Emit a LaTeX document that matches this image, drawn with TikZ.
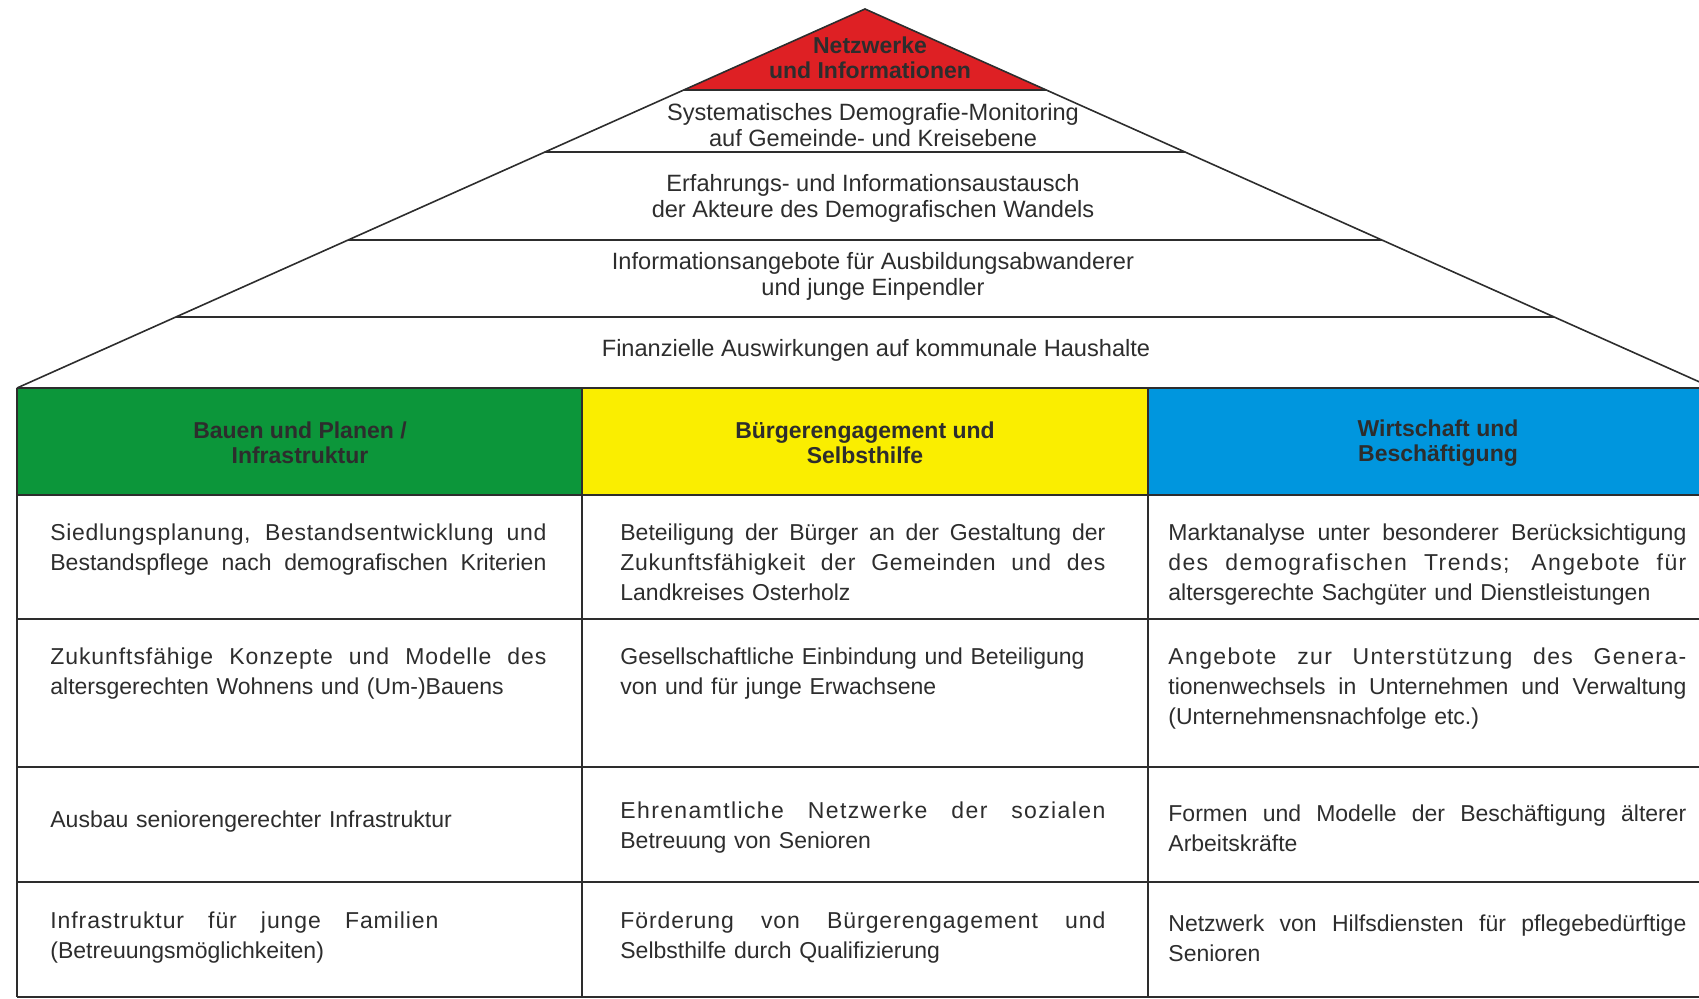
\documentclass[tikz,border=0pt]{standalone}
\usepackage{fontspec}
\setmainfont{Liberation Sans}
\usetikzlibrary{calc}
\definecolor{roofred}{RGB}{222,32,36}
\definecolor{colgreen}{RGB}{12,150,58}
\definecolor{colyellow}{RGB}{250,238,0}
\definecolor{colblue}{RGB}{0,150,222}
\definecolor{ink}{RGB}{45,45,45}
\newcommand{\jl}[2][\hsize]{{\spaceskip=0pt\xspaceskip=0pt\makebox[#1][s]{#2}}}
\newcommand{\wide}[1][6]{\addfontfeature{LetterSpace=#1}}

\begin{document}
\begin{tikzpicture}[x=0.5pt,y=-0.5pt,
  tabline/.style={draw=ink,line width=1.1pt},
  slope/.style={draw=ink,line width=0.8pt},
  rt/.style={align=center,inner sep=0pt,text=ink,font=\fontsize{11.8}{13}\selectfont},
  hd/.style={align=center,inner sep=0pt,text=ink,font=\fontsize{11.5}{12.5}\selectfont\bfseries},
  cell/.style={inner sep=0pt,align=left,text=ink,font=\fontsize{11.5}{15}\selectfont},
  colA/.style={cell,text width=248pt},
  colB/.style={cell,text width=242.5pt},
  colC/.style={cell,text width=259pt}]
  \useasboundingbox (0,0) rectangle (1699,999);
  % roof
  \coordinate (apex) at (865,9);
  \coordinate (eaveL) at (17,388);
  \coordinate (eaveR) at (1713,388);
  \fill[roofred] (apex) -- ($(apex)!81/379!(eaveL)$) -- ($(apex)!81/379!(eaveR)$) -- cycle;
  \draw[slope] (eaveL) -- (apex) -- (eaveR);
  \foreach \y in {90,152,240,317}
    \draw[tabline] ($(apex)!{(\y-9)/379}!(eaveL)$) -- ($(apex)!{(\y-9)/379}!(eaveR)$);
  \node[rt,font=\fontsize{11.5}{12.5}\selectfont\bfseries] (netz) at (870,58) {Netzwerke\\und Informationen};
  \node[rt] (moni) at (873,125) {Systematisches Demografie-Monitoring\\auf Gemeinde- und Kreisebene};
  \node[rt] (aust) at (873,198) {Erfahrungs- und Informationsaustausch\\der Akteure des Demografischen Wandels};
  \node[rt] (info) at (873,276) {Informationsangebote für Ausbildungsabwanderer\\und junge Einpendler};
  \node[rt] (fin) at (876,350) {Finanzielle Auswirkungen auf kommunale Haushalte};
  % table
  \fill[colgreen] (17,388) rectangle (582,495);
  \fill[colyellow] (582,388) rectangle (1148,495);
  \fill[colblue] (1148,388) rectangle (1725,495);
  \foreach \y in {388,495,619,767,882,997}
    \draw[tabline] (17,\y) -- (1725,\y);
  \foreach \x in {17,582,1148,1725}
    \draw[tabline] (\x,388) -- (\x,997);
  \node[hd] (bau) at (300,443) {Bauen und Planen /\\Infrastruktur};
  \node[hd] (buerg) at (865,443) {Bürgerengagement und\\Selbsthilfe};
  \node[hd] (wirt) at (1438,443) {Wirtschaft und\\Beschäftigung};
  % row 1
  \node[colA,anchor=north west] (a1) at (50,523) {\jl{\wide[3]Siedlungsplanung, Bestandsentwicklung und}\\\jl{Bestandspflege nach demografischen Kriterien}};
  \node[colB,anchor=north west] (b1) at (620,523) {\jl{Beteiligung der Bürger an der Gestaltung der}\\\jl{\wide[3]Zukunftsfähigkeit der Gemeinden und des}\\Landkreises Osterholz};
  \node[colC,anchor=north west] (c1) at (1168,523) {\jl{Marktanalyse unter besonderer Berücksichtigung}\\\jl{\wide des demografischen Trends; Angebote für}\\altersgerechte Sachgüter und Dienstleistungen};
  % row 2
  \node[colA,anchor=north west] (a2) at (50,647) {\jl{\wide[4]Zukunftsfähige Konzepte und Modelle des}\\altersgerechten Wohnens und (Um-)Bauens};
  \node[colB,anchor=north west] (b2) at (620,647) {Gesellschaftliche Einbindung und Beteiligung\\von und für junge Erwachsene};
  \node[colC,anchor=north west] (c2) at (1168,647) {\jl{\wide Angebote zur Unterstützung des Genera-}\\\jl{tionenwechsels in Unternehmen und Verwaltung}\\(Unternehmensnachfolge etc.)};
  % row 3
  \node[colA,anchor=west] (a3) at (50,822) {Ausbau seniorengerechter Infrastruktur};
  \node[colB,anchor=west] (b3) at (620,828) {\jl{\wide Ehrenamtliche Netzwerke der sozialen}\\Betreuung von Senioren};
  \node[colC,anchor=west] (c3) at (1168,828) {\jl{Formen und Modelle der Beschäftigung älterer}\\Arbeitskräfte};
  % row 4
  \node[colA,anchor=west] (a4) at (50,938) {\jl[194pt]{\wide[4]Infrastruktur für junge Familien}\\(Betreuungsmöglichkeiten)};
  \node[colB,anchor=west] (b4) at (620,938) {\jl{\wide[4]Förderung von Bürgerengagement und}\\Selbsthilfe durch Qualifizierung};
  \node[colC,anchor=west] (c4) at (1168,938) {\jl{Netzwerk von Hilfsdiensten für pflegebedürftige}\\Senioren};
\end{tikzpicture}
\end{document}
